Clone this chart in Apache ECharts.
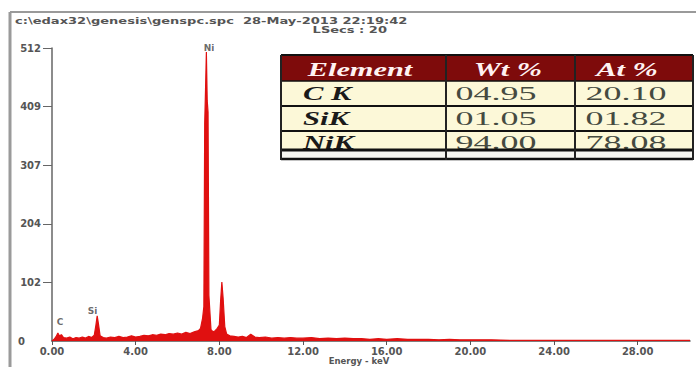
<!DOCTYPE html>
<html><head><meta charset="utf-8">
<script src="https://cdn.jsdelivr.net/npm/echarts@6/dist/echarts.min.js"></script>
<style>html,body{margin:0;padding:0;background:#fff}#c{width:696px;height:367px}</style>
</head><body><div id="c"></div>
<script>
// ---- data ----
const energyKeV = [0.0,0.1,0.2,0.28,0.35,0.45,0.55,0.7,0.85,1.0,1.15,1.3,1.45,1.6,1.75,1.9,2.02,2.1,2.16,2.22,2.3,2.45,2.6,2.8,3.0,3.2,3.4,3.6,3.8,4.0,4.2,4.4,4.6,4.8,5.0,5.2,5.4,5.6,5.8,6.0,6.2,6.4,6.6,6.8,7.0,7.1,7.2,7.26,7.30,7.34,7.38,7.42,7.46,7.50,7.6,7.7,7.8,7.9,8.0,8.06,8.12,8.18,8.26,8.35,8.5,8.7,8.9,9.1,9.3,9.5,9.7,9.9,10.2,10.5,10.8,11.1,11.4,11.7,12.0,12.4,12.8,13.2,13.6,14.0,14.4,14.8,15.2,15.6,16.0,16.5,17.0,17.5,18.0,18.5,19.0,19.5,20.0,21,22,23,24,25,26,27,28,29,30,30.5];
const counts    = [0,3,8,14,9,11,6,5,7,4,6,5,7,5,8,6,10,28,44,30,9,6,5,7,6,8,6,7,9,7,8,10,9,11,10,12,11,13,12,14,12,15,13,16,18,22,40,60,380,440,505,420,400,80,20,16,18,22,28,70,103,75,25,12,9,8,7,8,6,12,7,6,7,5,6,5,6,5,5,6,4,5,4,5,4,4,3,4,3,4,3,3,3,2,3,2,2,2,1,1,1,1,1,1,1,1,1,1];
const xTicks = [0,4,8,12,16,20,24,28];
const yTicks = [0,102.4,204.8,307.2,409.6,512];
const yTickLabels = ['0','102','204','307','409','512'];
const peakNames = ['C','Si','Ni'];
const peakX = [0.38,1.94,7.51];
const peakY = [33,52,512];
const tableHeaders = ['Element','Wt %','At %'];
const elements = ['C K','SiK','NiK'];
const wtPct = ['04.95','01.05','94.00'];
const atPct = ['20.10','01.82','78.08'];
const headerLine = 'c:\\edax32\\genesis\\genspc.spc  28-May-2013 22:19:42';
const lsecsLine = 'LSecs : 20';

// ---- layout ----
const chart = echarts.init(document.getElementById('c'), null, {renderer:'svg'});
const cols = [281,446,575,693];
const rows = [55,81,106,131,150];
const g = [];
// frame
g.push({type:'line', shape:{x1:10,y1:12,x2:696,y2:12}, style:{stroke:'#9a9a9a',lineWidth:2}});
g.push({type:'line', shape:{x1:10,y1:12,x2:10,y2:367}, style:{stroke:'#9a9a9a',lineWidth:3}});
g.push({type:'text', x:15, y:21, scaleX:1.45, style:{text:headerLine, fontFamily:'DejaVu Sans', fontSize:9, fontWeight:'bold', fill:'#555', textAlign:'left', textVerticalAlign:'middle'}});
g.push({type:'text', x:387, y:30, scaleX:1.45, style:{text:lsecsLine, fontFamily:'DejaVu Sans', fontSize:9, fontWeight:'bold', fill:'#555', textAlign:'right', textVerticalAlign:'middle'}});
// table
g.push({type:'rect', shape:{x:cols[0],y:rows[0],width:cols[3]-cols[0],height:rows[1]-rows[0]}, style:{fill:'#7e0b0b'}});
g.push({type:'rect', shape:{x:cols[0],y:rows[1],width:cols[3]-cols[0],height:rows[4]-rows[1]}, style:{fill:'#fcf8d8'}});
const hdrX = [360,508,627];
tableHeaders.forEach((t,i)=>{
  g.push({type:'text', x:hdrX[i], y:69, scaleX:1.6, style:{text:t, fontFamily:'Liberation Serif', fontSize:19, fontWeight:'bold', fontStyle:'italic', fill:'#fff2f2', textAlign:'center', textVerticalAlign:'middle'}});
});
const rowY = [94,119,143];
elements.forEach((t,i)=>{
  g.push({type:'text', x:303, y:rowY[i], scaleX:1.7, style:{text:t, fontFamily:'Liberation Serif', fontSize:18, fontWeight:'bold', fontStyle:'italic', fill:'#1a1a1a', textAlign:'left', textVerticalAlign:'middle'}});
  g.push({type:'text', x:496, y:rowY[i], scaleX:2.0, style:{text:wtPct[i], fontFamily:'Liberation Serif', fontSize:18, fill:'#454a40', textAlign:'center', textVerticalAlign:'middle'}});
  g.push({type:'text', x:626, y:rowY[i], scaleX:2.0, style:{text:atPct[i], fontFamily:'Liberation Serif', fontSize:18, fill:'#454a40', textAlign:'center', textVerticalAlign:'middle'}});
});
g.push({type:'rect', shape:{x:cols[0],y:151,width:cols[3]-cols[0],height:8}, style:{fill:'#f7f7f2'}});
[[rows[0],2],[rows[1],1.5],[rows[2],2],[rows[3],2],[rows[4],3],[159,2.5]].forEach(([y,w])=>{
  g.push({type:'line', shape:{x1:cols[0],y1:y,x2:cols[3],y2:y}, style:{stroke:'#111',lineWidth:w}});
});
cols.forEach(x=>{
  g.push({type:'line', shape:{x1:x,y1:rows[0],x2:x,y2:160}, style:{stroke:'#222',lineWidth:2}});
});

const option = {
  animation:false,
  backgroundColor:'#fff',
  grid:{left:52,right:6,top:48,bottom:26,containLabel:false,outerBoundsMode:'none'},
  xAxis:{type:'value',min:0,max:30.5,
    name:'Energy - keV',nameLocation:'middle',nameGap:15,nameMoveOverlap:false,
    nameTextStyle:{fontFamily:'DejaVu Sans',fontSize:8.5,lineHeight:9,fontWeight:'bold',color:'#555',padding:[0,24,0,0]},
    axisLine:{lineStyle:{color:'#555',width:1.5}},
    axisTick:{show:true,length:4,customValues:xTicks,lineStyle:{color:'#555'}},
    axisLabel:{customValues:xTicks,formatter:v=>v.toFixed(2),fontFamily:'DejaVu Sans',fontSize:10,lineHeight:10,fontWeight:'bold',color:'#555',margin:5},
    splitLine:{show:false}},
  yAxis:{type:'value',min:0,max:512,
    axisLine:{show:true,lineStyle:{color:'#666',width:1.5}},
    axisTick:{show:true,length:9,customValues:yTicks.slice(1),lineStyle:{color:'#666'}},
    axisLabel:{customValues:yTicks,formatter:v=>{let k=0,b=1e9;yTicks.forEach((t,i)=>{if(Math.abs(t-v)<b){b=Math.abs(t-v);k=i;}});return k===0?'{z|'+yTickLabels[k]+'}':yTickLabels[k];},
      fontFamily:'DejaVu Sans',fontSize:10,fontWeight:'bold',color:'#555',margin:11,
      rich:{z:{fontFamily:'DejaVu Sans',fontSize:10,fontWeight:'bold',color:'#555',padding:[0,16,0,0]}}},
    splitLine:{show:false}},
  series:[
    {type:'line',data:energyKeV.map((e,i)=>[e,counts[i]]),symbol:'none',
     lineStyle:{color:'#e01010',width:1.2},areaStyle:{color:'#e01010',opacity:1},z:2},
    {type:'scatter',data:peakNames.map((n,i)=>[peakX[i],peakY[i],n]),symbolSize:0,
     label:{show:true,position:'inside',formatter:p=>p.data[2],fontFamily:'DejaVu Sans',fontSize:9,fontWeight:'bold',color:'#444'},z:3}
  ],
  graphic:g
};
chart.setOption(option);
</script></body></html>
